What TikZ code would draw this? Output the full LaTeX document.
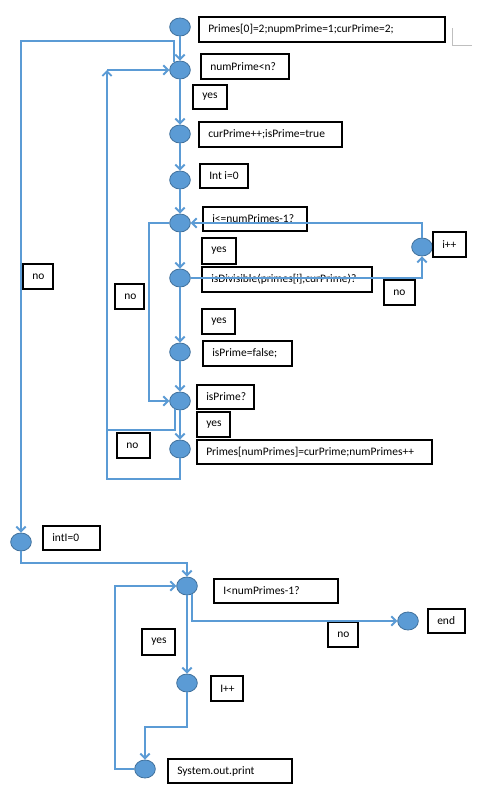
\documentclass[tikz,border=0pt]{standalone}
\usepackage{fontspec}
\setmainfont{Carlito}
\usetikzlibrary{arrows.meta,shapes.geometric}
\definecolor{cfill}{HTML}{5B9BD5}
\definecolor{cedge}{HTML}{41719C}
\definecolor{lnc}{HTML}{5B9BD5}
\newcommand\flowbox[6]{\draw[boxline] (#2,#3) rectangle (#4,#5); \node[lbl] (#1) at ({#2+9},{(#3+#5)/2}) {#6};}
\begin{document}
\begin{tikzpicture}[x=0.75pt,y=-0.75pt,
  dot/.style={ellipse, fill=cfill, draw=cedge, line width=0.6pt, minimum width=15.5pt, minimum height=13.5pt, inner sep=0pt},
  conn/.style={draw=lnc, line width=1.4pt},
  arr/.style={conn, -{Straight Barb[length=3.5pt,width=7pt]}},
  boxline/.style={draw=black, line width=1.6pt},
  lbl/.style={anchor=west, inner sep=0pt, font=\fontsize{8.6}{10}\selectfont}]
\useasboundingbox (0,0) rectangle (498,786);
\fill[white] (0,0) rectangle (498,786);
% circles
\node[dot] (c1) at (180,27) {};
\node[dot] (c2) at (180,70) {};
\node[dot] (c3) at (180,134) {};
\node[dot] (c4) at (180,180) {};
\node[dot] (c5) at (180,223) {};
\node[dot] (c6) at (180,278) {};
\node[dot] (c7) at (180,352) {};
\node[dot] (c8) at (180,401) {};
\node[dot] (c9) at (180,449) {};
\node[dot] (cip) at (422,247) {};
\node[dot] (cI) at (21,542) {};
\node[dot] (c10) at (187,586) {};
\node[dot] (c11) at (187,683) {};
\node[dot] (c12) at (145,769) {};
\node[dot] (cend) at (408,621) {};
% boxes
\flowbox{t1}{199}{17}{445}{42}{Primes[0]=2;nupmPrime=1;curPrime=2;}
\flowbox{t2}{201}{54}{289}{79}{numPrime<n?}
\flowbox{y1}{193}{85}{227}{109}{yes}
\flowbox{t3}{199}{122}{342}{147}{curPrime++;isPrime=true}
\flowbox{t4}{200}{164}{248}{188}{Int i=0}
\flowbox{t5}{203}{207}{307}{231}{i<=numPrimes-1?}
\flowbox{y2}{202}{238}{236}{264}{yes}
\flowbox{t6}{202}{267}{372}{292}{isDivisible(primes[i],curPrime)?}
\flowbox{n4}{384}{280}{415}{305}{no}
\flowbox{tip}{433}{232}{466}{257}{i++}
\flowbox{y3}{202}{309}{235}{334}{yes}
\flowbox{t7}{203}{341}{292}{366}{isPrime=false;}
\flowbox{t8}{197}{385}{254}{409}{isPrime?}
\flowbox{y4}{197}{412}{230}{437}{yes}
\flowbox{t9}{197}{440}{432}{464}{Primes[numPrimes]=curPrime;numPrimes++}
\flowbox{n1}{23}{264}{53}{289}{no}
\flowbox{n2}{115}{284}{144}{309}{no}
\flowbox{n3}{117}{433}{150}{458}{no}
\flowbox{tI}{43}{526}{100}{550}{intI=0}
\flowbox{t10}{214}{579}{338}{603}{I<numPrimes-1?}
\flowbox{tend}{428}{609}{465}{633}{end}
\flowbox{n5}{328}{622}{358}{647}{no}
\flowbox{y5}{142}{629}{175}{655}{yes}
\flowbox{t11}{211}{676}{243}{701}{I++}
\flowbox{t12}{168}{759}{292}{783}{System.out.print}
% corner mark
\draw[black!25, line width=0.6pt] (452,28) -- (452,45) -- (472,45);
% coordinates
\coordinate (noTop) at (21,41);
\coordinate (lb) at (107,479);
\coordinate (lt) at (107,70);
\coordinate (lm) at (107,430);
\coordinate (nl) at (149,223);
\coordinate (dr) at (422,278);
\coordinate (ur) at (422,223);
\coordinate (b1) at (21,563);
\coordinate (b2) at (187,727);
\coordinate (b3) at (115,586);
% connectors
\draw[arr] (c1) -- (c2);
\draw[arr] (c2) -- (c3);
\draw[arr] (c3) -- (c4);
\draw[arr] (c4) -- (c5);
\draw[arr] (c5) -- (c6);
\draw[arr] (c6) -- (c7);
\draw[arr] (c7) -- (c8);
\draw[arr] (c8) -- (c9);
\draw[arr] (c2.125) |- (noTop) -- (cI.north);
\draw[arr] (c9.south) |- (lb) -- (lt);
\draw[arr] (lt) -- (c2.west);
\draw[conn] (c8.240) |- (lm);
\draw[arr] (c5.west) -- (nl) |- (c8.west);
\draw[arr] (c6.east) -- (dr) -- (cip.south);
\draw[arr] (cip.north) -- (ur) -- (c5.east);
\draw[arr] (cI.south) -- (b1) -| (c10.north);
\draw[arr] (c10) -- (c11);
\draw[arr] (c10.300) |- (cend.west);
\draw[arr] (c11.south) -- (b2) -| (c12.north);
\draw[arr] (c12.west) -| (b3) -- (c10.west);
\end{tikzpicture}
\end{document}
